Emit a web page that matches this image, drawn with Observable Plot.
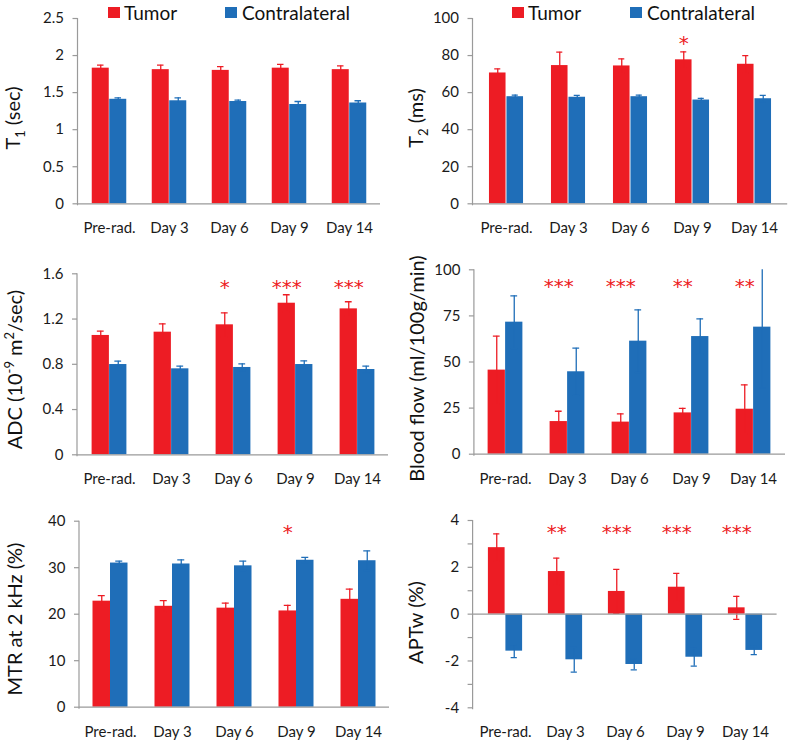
<!DOCTYPE html>
<html><head><meta charset="utf-8">
<script src="https://cdn.jsdelivr.net/npm/d3@7"></script>
<script src="https://cdn.jsdelivr.net/npm/@observablehq/plot@0.6"></script>
<style>
body{margin:0;background:#fff;}
#root{position:relative;width:799px;height:743px;font-family:Lato,sans-serif;overflow:hidden;color:#1a1a1a}
.panel{position:absolute}
.lg-sw{position:absolute;width:12px;height:11px}
.lg-tx{position:absolute;font-size:19px;line-height:23px;white-space:nowrap;color:#111}
</style></head><body><div id="root"></div>
<script>
// ---- data ----
const categories = ["Pre-rad.", "Day 3", "Day 6", "Day 9", "Day 14"];
const seriesNames = ["Tumor", "Contralateral"];

const t1Tumor = [1.83, 1.81, 1.80, 1.83, 1.81];
const t1TumorErr = [0.04, 0.06, 0.05, 0.05, 0.05];
const t1Contra = [1.41, 1.39, 1.38, 1.34, 1.36];
const t1ContraErr = [0.02, 0.04, 0.02, 0.04, 0.03];
const t1Ticks = [0, 0.5, 1, 1.5, 2, 2.5];

const t2Tumor = [70.6, 74.6, 74.4, 77.7, 75.3];
const t2TumorErr = [2.2, 7.2, 3.8, 4.3, 4.7];
const t2Contra = [57.8, 57.5, 57.8, 56.0, 56.7];
const t2ContraErr = [0.9, 1.0, 0.8, 0.9, 1.8];
const t2Stars = ["", "", "", "*", ""];
const t2Ticks = [0, 20, 40, 60, 80, 100];

const adcTumor = [1.055, 1.084, 1.149, 1.340, 1.290];
const adcTumorErr = [0.038, 0.074, 0.106, 0.075, 0.063];
const adcContra = [0.798, 0.760, 0.772, 0.798, 0.754];
const adcContraErr = [0.030, 0.023, 0.032, 0.032, 0.029];
const adcStars = ["", "", "*", "***", "***"];
const adcTicks = [0, 0.4, 0.8, 1.2, 1.6];

const bfTumor = [45.6, 17.7, 17.4, 22.4, 24.4];
const bfTumorErr = [18.4, 5.6, 4.5, 2.5, 13.2];
const bfContra = [71.6, 44.7, 61.3, 63.8, 68.9];
const bfContraErr = [14.3, 12.8, 17.0, 9.6, 33.0];
const bfStars = ["", "***", "***", "**", "**"];
const bfTicks = [0, 25, 50, 75, 100];

const mtrTumor = [22.8, 21.7, 21.3, 20.7, 23.2];
const mtrTumorErr = [1.2, 1.2, 1.1, 1.2, 2.2];
const mtrContra = [31.0, 30.8, 30.4, 31.6, 31.5];
const mtrContraErr = [0.4, 0.9, 1.0, 0.6, 2.1];
const mtrStars = ["", "", "", "*", ""];
const mtrTicks = [0, 10, 20, 30, 40];

const aptTumor = [2.84, 1.82, 0.97, 1.15, 0.27];
const aptTumorErr = [0.59, 0.57, 0.94, 0.59, 0.49];
const aptContra = [-1.58, -1.95, -2.15, -1.84, -1.55];
const aptContraErr = [0.28, 0.53, 0.23, 0.38, 0.18];
const aptStars = ["", "**", "***", "***", "***"];
const aptTicks = [-4, -3, -2, -1, 0, 1, 2, 3, 4];
const aptTickLabels = [-4, -2, 0, 2, 4];

// ---- styles ----
const RED = "#ED1C24", BLUE = "#1F6EB8", GRAY = "#9a9a9a";
const FONT = "Lato, sans-serif";
const root = document.getElementById("root");

function makePanel(cfg) {
  const {left, top, width, height, x0, x1, yTop, yBot} = cfg;
  const mL = x0 - left, mR = left + width - x1, mT = yTop - top, mB = top + height - yBot;
  const bw = (x1 - x0) / categories.length;
  const barW = 17.5, capW = 7;
  const rows = categories.map((c, i) => ({
    cat: c, t: cfg.tumor[i], te: cfg.tumorErr[i], c: cfg.contra[i], ce: cfg.contraErr[i],
    s: cfg.stars ? cfg.stars[i] : ""
  }));
  const labelSet = new Set(cfg.tickLabels || cfg.ticks);
  const marks = [
    Plot.barY(rows, {x: "cat", y1: 0, y2: "t", fill: RED, insetLeft: bw / 2 - barW, insetRight: bw / 2}),
    Plot.barY(rows, {x: "cat", y1: 0, y2: "c", fill: BLUE, insetLeft: bw / 2, insetRight: bw / 2 - barW}),
    Plot.ruleX(rows, {x: "cat", y1: d => d.t - d.te, y2: d => d.t + d.te, dx: -barW / 2, stroke: RED, strokeWidth: 1.3, clip: true}),
    Plot.ruleX(rows, {x: "cat", y1: d => d.c - d.ce, y2: d => d.c + d.ce, dx: barW / 2, stroke: BLUE, strokeWidth: 1.3, clip: true}),
    Plot.tickY(rows, {x: "cat", y: d => d.t + d.te, stroke: RED, strokeWidth: 1.3, clip: true,
      insetLeft: bw / 2 - barW / 2 - capW / 2, insetRight: bw / 2 + barW / 2 - capW / 2}),
    Plot.tickY(rows, {x: "cat", y: d => d.t - d.te, stroke: RED, strokeWidth: 1.3, clip: true,
      insetLeft: bw / 2 - barW / 2 - capW / 2, insetRight: bw / 2 + barW / 2 - capW / 2}),
    Plot.tickY(rows, {x: "cat", y: d => d.c + d.ce, stroke: BLUE, strokeWidth: 1.3, clip: true,
      insetLeft: bw / 2 + barW / 2 - capW / 2, insetRight: bw / 2 - barW / 2 - capW / 2}),
    Plot.tickY(rows, {x: "cat", y: d => d.c - d.ce, stroke: BLUE, strokeWidth: 1.3, clip: true,
      insetLeft: bw / 2 + barW / 2 - capW / 2, insetRight: bw / 2 - barW / 2 - capW / 2}),
    Plot.ruleY([0], {stroke: GRAY, strokeWidth: 1.2}),
    Plot.axisY({ticks: cfg.ticks, tickSize: 5, tickPadding: 9, fontSize: 15, label: null,
      tickFormat: d => labelSet.has(d) ? String(d) : ""}),
    Plot.axisX({tickSize: 0, tickPadding: 19, fontSize: 15, label: null})
  ];
  if (cfg.stars) {
    marks.push(Plot.text(rows.filter(d => d.s), {x: "cat", y: () => cfg.starY, text: "s", dx: -barW / 2,
      fill: RED, fontSize: 20, fontFamily: "DejaVu Sans", lineAnchor: "middle", dy: 5.5,
      style: {letterSpacing: "1.5px"}}));
  }
  const svg = Plot.plot({
    width, height, marginLeft: mL, marginRight: mR, marginTop: mT, marginBottom: mB,
    style: {fontFamily: FONT, background: "transparent", overflow: "visible", color: "#1a1a1a"},
    x: {domain: categories, padding: 0, label: null},
    y: {domain: cfg.domain, label: null},
    marks
  });
  const s = d3.select(svg);
  s.selectAll('g[aria-label="y-axis tick"]').attr("stroke", GRAY).attr("stroke-width", 1.2);
  // y axis line
  s.append("line").attr("x1", mL).attr("x2", mL).attr("y1", mT).attr("y2", height - mB + 2)
    .attr("stroke", GRAY).attr("stroke-width", 1.2);
  // y axis title
  const t = s.append("text")
    .attr("transform", `translate(${cfg.titleX - left},${cfg.titleY - top}) rotate(-90)`)
    .attr("text-anchor", "middle").attr("dy", "0.35em")
    .attr("font-size", 20).attr("font-family", FONT).attr("fill", "#111");
  cfg.title.forEach(part => {
    const ts = t.append("tspan").text(part.t);
    if (part.sub) ts.attr("font-size", 13).attr("dy", 5);
    if (part.sup) ts.attr("font-size", 13).attr("dy", -8);
    if (part.back) ts.attr("dy", part.back);
  });
  const div = document.createElement("div");
  div.className = "panel";
  div.style.left = left + "px";
  div.style.top = top + "px";
  div.appendChild(svg);
  root.appendChild(div);
}

function makeLegend(items) {
  items.forEach(it => {
    const sw = document.createElement("div");
    sw.className = "lg-sw";
    sw.style.left = it.sx + "px"; sw.style.top = "7px"; sw.style.background = it.color;
    root.appendChild(sw);
    const tx = document.createElement("div");
    tx.className = "lg-tx";
    tx.style.left = it.tx + "px"; tx.style.top = "1px";
    tx.textContent = it.label;
    root.appendChild(tx);
  });
}

makePanel({left: 0, top: 0, width: 400, height: 240, x0: 77.5, x1: 380, yTop: 18, yBot: 203.3,
  domain: [0, 2.5], ticks: t1Ticks, tumor: t1Tumor, tumorErr: t1TumorErr, contra: t1Contra, contraErr: t1ContraErr,
  titleX: 13, titleY: 118, title: [{t: "T"}, {t: "1", sub: true}, {t: " (sec)", back: -5}]});
makePanel({left: 400, top: 0, width: 399, height: 240, x0: 472.5, x1: 787.2, yTop: 18, yBot: 203.3,
  domain: [0, 100], ticks: t2Ticks, tumor: t2Tumor, tumorErr: t2TumorErr, contra: t2Contra, contraErr: t2ContraErr,
  stars: t2Stars, starY: 89.2,
  titleX: 416, titleY: 118, title: [{t: "T"}, {t: "2", sub: true}, {t: " (ms)", back: -5}]});
makePanel({left: 0, top: 240, width: 400, height: 250, x0: 77, x1: 388, yTop: 273.3, yBot: 454.3,
  domain: [0, 1.6], ticks: adcTicks, tumor: adcTumor, tumorErr: adcTumorErr, contra: adcContra, contraErr: adcContraErr,
  stars: adcStars, starY: 1.53,
  titleX: 15, titleY: 369.5, title: [{t: "ADC (10"}, {t: "-9", sup: true}, {t: " m", back: 8}, {t: "2", sup: true}, {t: "/sec)", back: 8}]});
makePanel({left: 400, top: 240, width: 399, height: 250, x0: 473.9, x1: 785, yTop: 269.3, yBot: 453.7,
  domain: [0, 100], ticks: bfTicks, tumor: bfTumor, tumorErr: bfTumorErr, contra: bfContra, contraErr: bfContraErr,
  stars: bfStars, starY: 93.7,
  titleX: 417, titleY: 368.5, title: [{t: "Blood flow (ml/100g/min)"}]});
makePanel({left: 0, top: 490, width: 400, height: 253, x0: 79, x1: 389, yTop: 520.7, yBot: 706.7,
  domain: [0, 40], ticks: mtrTicks, tumor: mtrTumor, tumorErr: mtrTumorErr, contra: mtrContra, contraErr: mtrContraErr,
  stars: mtrStars, starY: 38.7,
  titleX: 14.5, titleY: 619, title: [{t: "MTR at 2 kHz (%)"}]});
makePanel({left: 400, top: 490, width: 399, height: 253, x0: 472.6, x1: 776.6, yTop: 520, yBot: 707.3,
  domain: [-4, 4], ticks: aptTicks, tickLabels: aptTickLabels, tumor: aptTumor, tumorErr: aptTumorErr, contra: aptContra, contraErr: aptContraErr,
  stars: aptStars, starY: 3.72,
  titleX: 416, titleY: 622.5, title: [{t: "APTw (%)"}]});

makeLegend([
  {sx: 108, tx: 124, color: RED, label: seriesNames[0]},
  {sx: 225, tx: 242, color: BLUE, label: seriesNames[1]},
  {sx: 512, tx: 528, color: RED, label: seriesNames[0]},
  {sx: 630, tx: 647, color: BLUE, label: seriesNames[1]}
]);
</script>
</body></html>
